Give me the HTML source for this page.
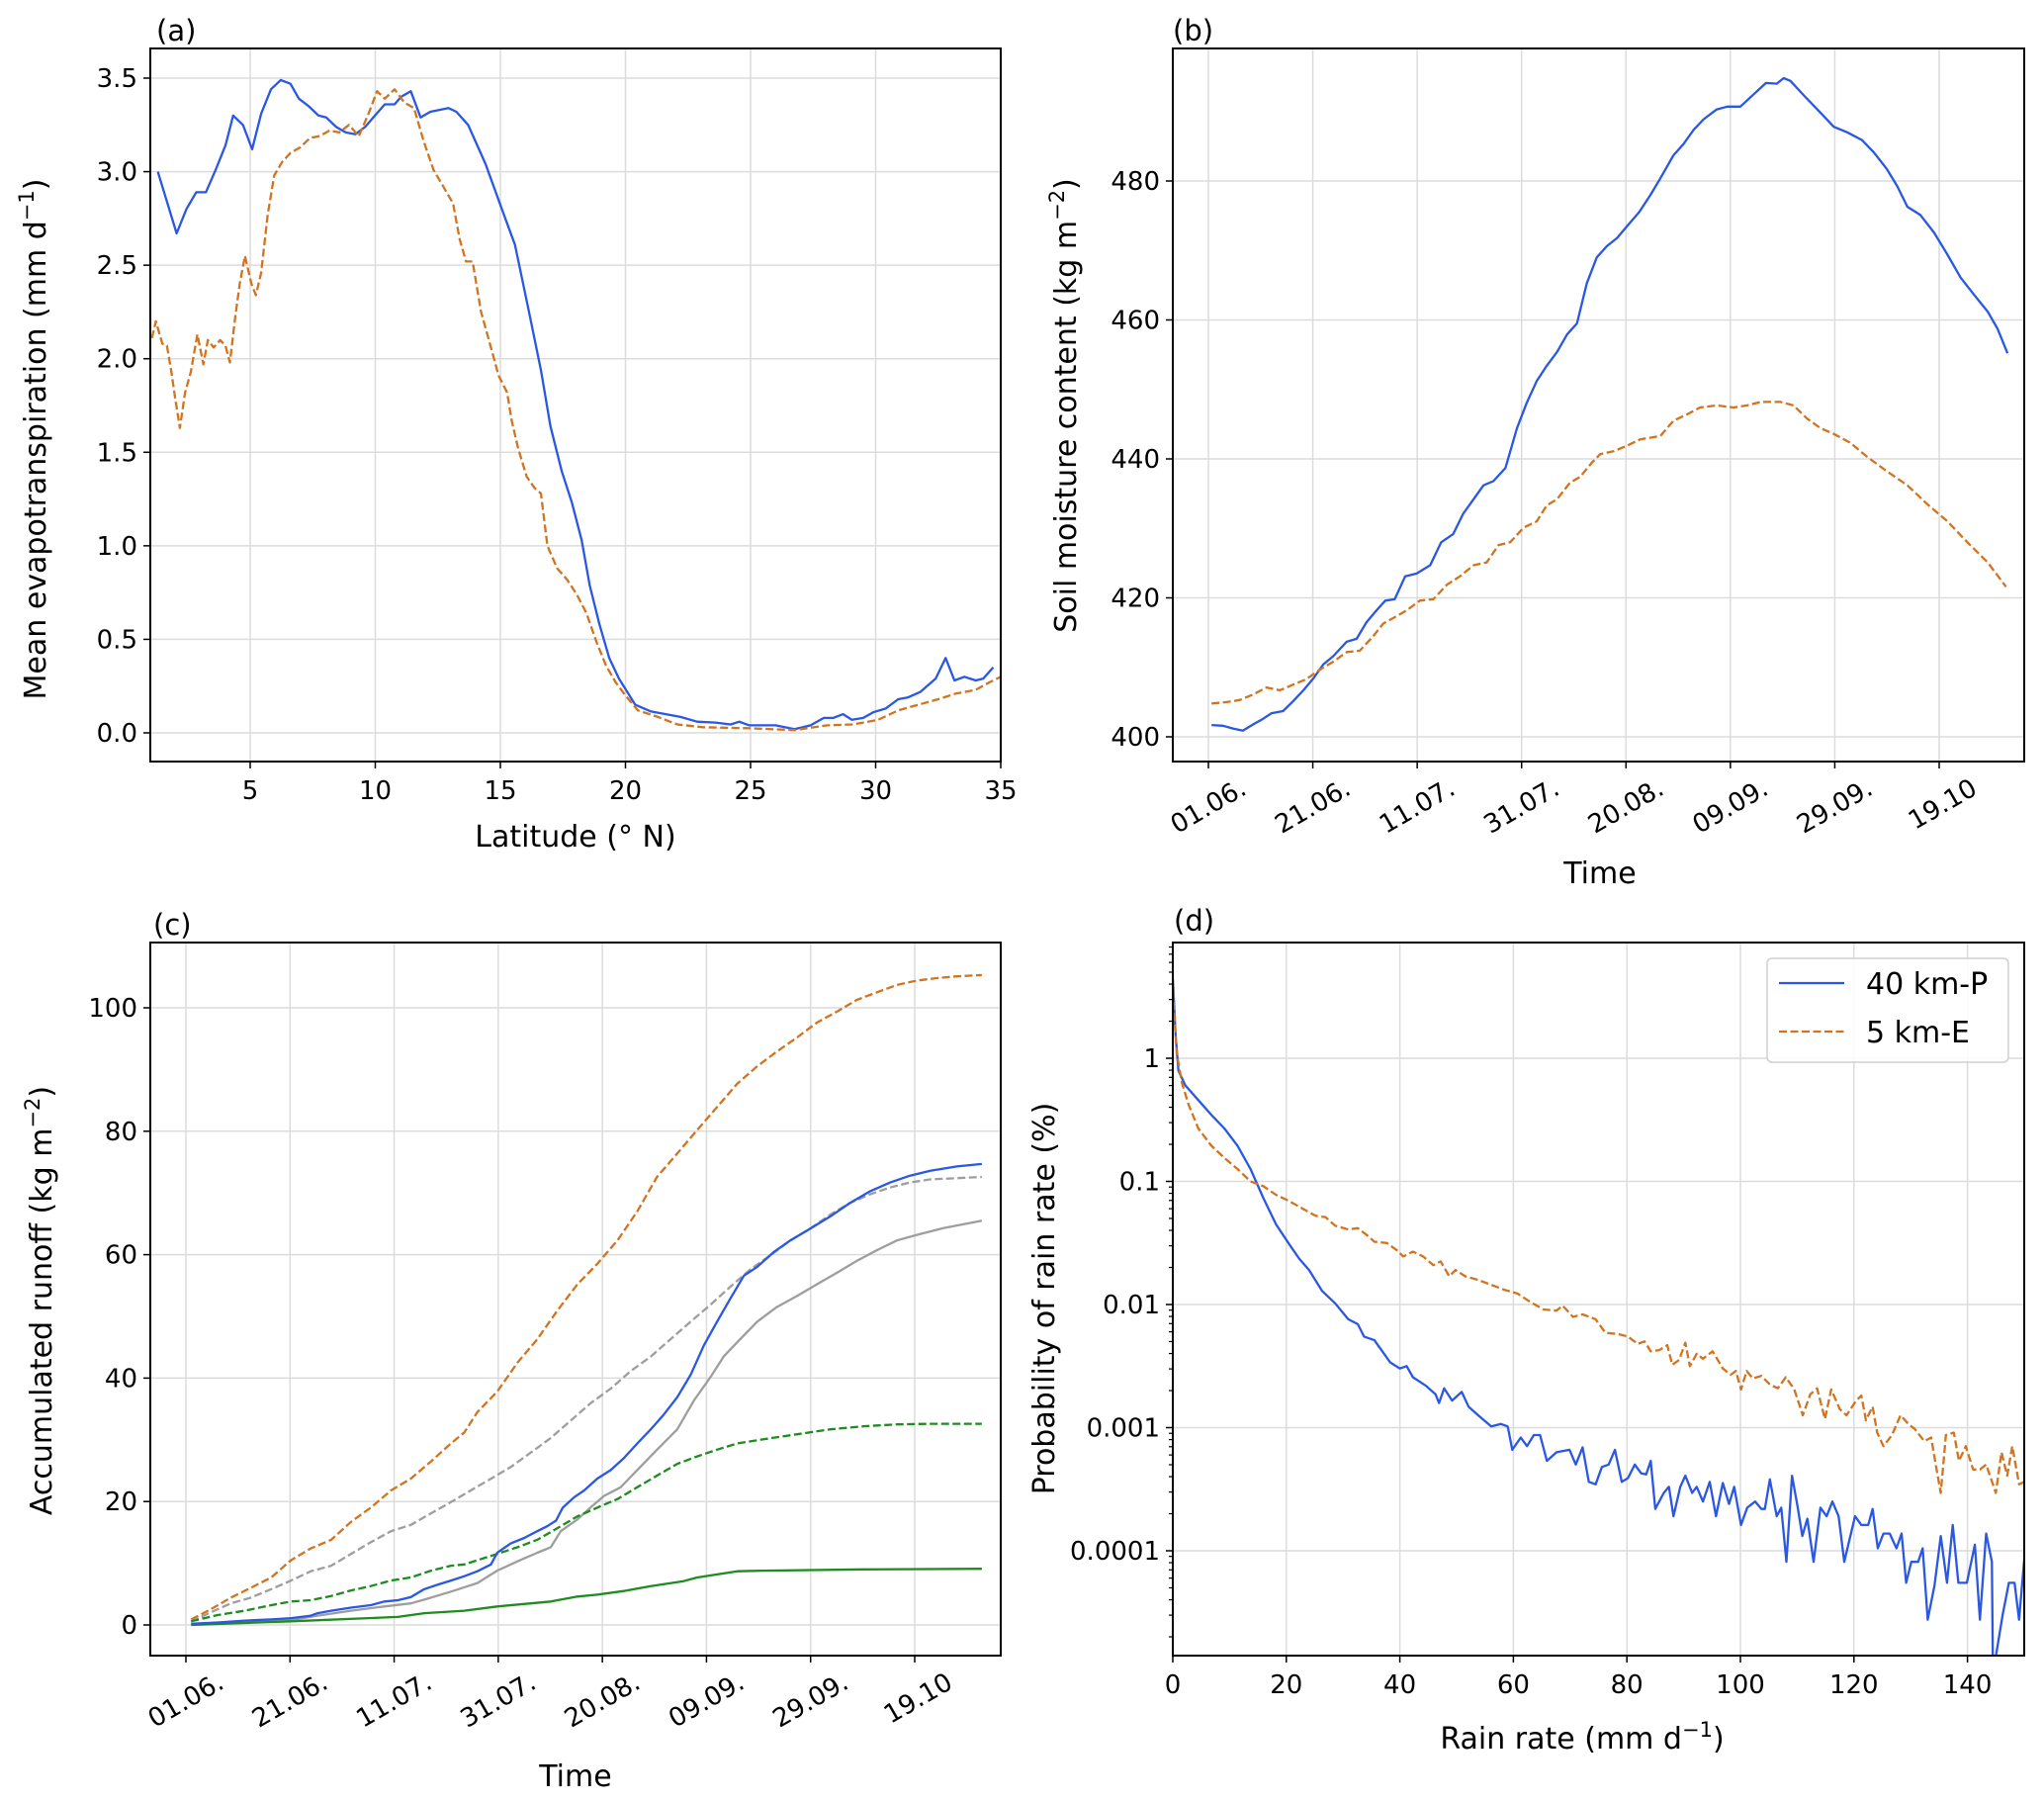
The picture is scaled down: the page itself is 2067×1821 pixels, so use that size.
<!DOCTYPE html>
<html><head><meta charset="utf-8"><style>
html,body{margin:0;padding:0;background:#fff;}
svg{display:block;font-family:"DejaVu Sans","Liberation Sans",sans-serif;}
</style></head><body>
<svg id="fig" width="2067" height="1821" viewBox="0 0 2067 1821" xmlns="http://www.w3.org/2000/svg">
<rect x="0" y="0" width="2067" height="1821" fill="#fff"/>
</svg>
<script>
// ---------- Panel (a) data: latitude vs mean evapotranspiration ----------
const latA_blue=[1.31,2.06,2.45,2.84,3.23,3.62,4.01,4.32,4.71,5.08,5.44,5.83,6.22,6.61,6.95,7.34,7.73,8.04,8.43,8.82,9.21,9.60,9.99,10.38,10.77,11.03,11.42,11.81,12.2,12.93,13.24,13.71,14.41,15.06,15.58,16.1,16.62,17.0,17.45,17.86,18.25,18.57,18.96,19.35,19.74,20.39,21.0,22.2,22.86,23.6,24.2,24.55,24.95,26.0,26.76,27.4,27.93,28.3,28.7,29.05,29.5,29.9,30.4,30.9,31.3,31.8,32.4,32.8,33.15,33.55,34.0,34.3,34.7];
const etA_blue=[3.0,2.67,2.8,2.89,2.89,3.01,3.14,3.30,3.25,3.12,3.31,3.44,3.49,3.47,3.39,3.35,3.30,3.29,3.24,3.21,3.20,3.24,3.30,3.36,3.36,3.40,3.43,3.29,3.32,3.34,3.32,3.25,3.04,2.80,2.61,2.28,1.94,1.64,1.40,1.23,1.03,0.79,0.58,0.40,0.29,0.15,0.115,0.085,0.06,0.055,0.045,0.06,0.04,0.04,0.02,0.04,0.08,0.08,0.10,0.07,0.08,0.11,0.13,0.18,0.19,0.22,0.29,0.40,0.28,0.30,0.28,0.29,0.35];
const latA_orange=[1.07,1.23,1.49,1.67,1.85,2.0,2.19,2.4,2.63,2.89,3.13,3.31,3.54,3.8,4.01,4.19,4.4,4.58,4.79,5.05,5.23,5.44,5.70,5.96,6.27,6.61,7.0,7.39,7.78,8.17,8.56,8.95,9.34,9.73,10.07,10.38,10.77,11.16,11.55,11.94,12.33,12.72,13.11,13.37,13.63,13.89,14.23,14.54,14.93,15.27,15.45,15.71,16.05,16.36,16.62,16.88,17.27,17.66,18.05,18.44,18.83,19.22,19.61,20.0,20.5,21.3,22.08,23.1,24.9,26.76,28.06,29.1,30.1,30.9,31.7,32.5,33.2,34.0,34.55,35.0];
const etA_orange=[2.11,2.20,2.08,2.07,1.93,1.79,1.63,1.82,1.93,2.13,1.97,2.10,2.06,2.10,2.07,1.98,2.22,2.40,2.55,2.40,2.34,2.46,2.77,2.98,3.05,3.10,3.13,3.18,3.19,3.22,3.21,3.25,3.19,3.31,3.43,3.39,3.44,3.37,3.34,3.16,3.01,2.92,2.83,2.64,2.52,2.52,2.25,2.10,1.91,1.82,1.67,1.52,1.37,1.31,1.28,1.0,0.88,0.82,0.74,0.64,0.49,0.36,0.27,0.20,0.12,0.085,0.045,0.03,0.025,0.015,0.04,0.045,0.07,0.12,0.15,0.18,0.21,0.23,0.27,0.30];
const xTicksA=[5,10,15,20,25,30,35];
const yTicksA=[0,0.5,1,1.5,2,2.5,3,3.5];
const yTickLabelsA=["0.0","0.5","1.0","1.5","2.0","2.5","3.0","3.5"];

// ---------- Panel (b) data: soil moisture (days since 01.06.) ----------
const dayB_blue=[0.6,2.8,4.7,6.6,8.6,10.5,12.1,14.3,16.2,18.2,20.1,22.0,23.9,26.5,28.4,30.3,32.2,33.9,35.7,37.7,39.9,42.5,44.6,46.9,48.8,50.8,52.7,54.6,56.9,59.1,61.0,62.9,64.8,66.8,68.7,70.6,72.5,74.4,76.3,78.3,80.2,82.5,84.7,86.6,89.1,91.0,93.0,94.9,97.4,99.4,101.9,104.5,106.8,108.9,110.2,111.5,114.1,117.3,119.8,122.4,125.2,127.5,130.0,132.0,133.9,136.4,139.0,141.6,144.1,146.7,149.3,151.2,153.1];
const smB_blue=[401.7,401.6,401.2,400.9,401.8,402.6,403.4,403.7,405.1,406.7,408.4,410.4,411.6,413.7,414.1,416.5,418.2,419.6,419.8,423.1,423.5,424.7,428.0,429.2,432.1,434.2,436.2,436.8,438.7,444.4,448.1,451.2,453.4,455.4,457.9,459.5,465.3,469.0,470.6,471.8,473.5,475.5,478.0,480.4,483.7,485.3,487.4,488.9,490.3,490.7,490.7,492.5,494.1,494.0,494.8,494.4,492.3,489.8,487.8,487.0,485.9,484.1,481.7,479.2,476.3,475.1,472.6,469.4,466.1,463.6,461.2,458.7,455.2];
const dayB_orange=[0.6,3.5,6.0,8.6,11.1,13.7,16.2,18.8,21.4,23.9,26.5,29.0,31.6,33.5,36.1,38.0,40.5,43.1,45.7,48.2,50.8,53.3,55.6,57.8,60.4,62.9,64.8,66.8,69.3,71.2,73.5,75.1,77.6,80.2,82.7,86.6,89.1,91.7,94.2,97.4,100.6,103.2,105.8,109.6,112.1,114.7,117.3,119.8,123.0,126.2,130.0,133.9,137.7,141.6,145.4,149.3,152.8];
const smB_orange=[404.8,405.0,405.3,406.1,407.1,406.7,407.5,408.3,409.7,410.8,412.2,412.4,414.5,416.3,417.4,418.2,419.6,419.8,421.9,423.1,424.7,425.1,427.6,428.0,430.1,431.0,433.3,434.2,436.6,437.4,439.5,440.7,441.1,441.9,442.8,443.3,445.5,446.4,447.4,447.7,447.4,447.7,448.2,448.2,447.7,445.8,444.4,443.6,442.3,440.3,438.2,436.2,433.5,431.0,428.0,425.1,421.6];
const dateTicks=[0,20,40,60,80,100,120,140];
const dateLabels=["01.06.","21.06.","11.07.","31.07.","20.08.","09.09.","29.09.","19.10"];
const yTicksB=[400,420,440,460,480];

// ---------- Panel (c) data: accumulated runoff ----------
const dayC_orange=[1,4.7,8.6,12.4,16.4,20.2,24.0,27.9,31.7,35.5,39.4,43.2,47.1,50.9,53.5,56.0,59.8,63.7,67.5,71.4,75.2,79.0,82.9,86.7,90.5,94.4,98.2,102.0,105.9,109.7,113.5,117.4,121.2,125.1,128.9,132.7,136.6,140.4,144.2,148.1,152.9];
const runC_orange=[0.9,2.5,4.4,6.0,7.7,10.5,12.4,13.8,16.7,19.0,21.8,23.7,26.5,29.4,31.2,34.5,37.8,42.5,46.3,51.0,55.2,58.5,62.3,67.0,72.6,76.4,80.2,83.9,87.7,90.5,92.9,95.2,97.6,99.4,101.3,102.5,103.7,104.4,104.8,105.1,105.3];
const dayC_grayDash=[1,4.7,8.6,12.4,16.4,20.2,24.0,27.9,31.7,35.5,39.4,43.2,47.1,50.9,54.7,58.6,62.4,66.2,70.1,73.9,77.7,81.6,85.4,89.3,93.1,96.9,100.8,104.6,108.4,112.3,116.1,119.9,123.8,127.6,131.5,135.3,139.1,143.0,148.1,152.9];
const runC_grayDash=[0.6,2.0,3.5,4.4,5.8,7.2,8.7,9.6,11.5,13.4,15.2,16.2,18.1,19.9,21.8,23.7,25.6,27.9,30.3,33.1,35.9,38.3,41.1,43.5,46.3,49.1,51.9,54.8,57.6,59.9,62.3,64.2,66.5,68.4,69.8,70.9,71.7,72.2,72.4,72.6];
const dayC_blue=[1,6.1,11.3,16.4,20.2,24.0,25.3,27.9,31.7,35.5,38.1,40.7,43.2,45.8,48.3,50.9,53.5,56.0,58.6,59.8,62.4,65.0,67.5,69.4,71.1,72.4,74.6,76.5,79.0,81.6,84.1,86.7,89.3,91.8,94.4,97.0,99.5,102.0,104.6,107.2,109.7,112.9,116.1,119.9,123.8,127.6,131.5,135.3,139.1,143.0,148.1,152.9];
const runC_blue=[0.2,0.4,0.7,0.9,1.1,1.5,1.9,2.3,2.8,3.2,3.8,4.0,4.5,5.8,6.5,7.2,7.9,8.7,9.8,11.7,13.2,14.1,15.2,16.0,16.9,19.0,20.7,21.8,23.7,25.1,27.0,29.4,31.7,34.1,36.9,40.6,45.3,49.1,52.9,56.6,58.0,60.4,62.3,64.2,66.2,68.4,70.3,71.7,72.8,73.6,74.3,74.7];
const dayC_gray=[1,11.3,20.2,25.3,31.7,38.1,43.2,45.8,50.9,56.0,59.8,63.7,67.5,70.1,72.0,75.2,77.7,80.3,83.5,86.7,90.5,94.4,97.6,100.8,103.3,105.9,109.7,113.5,117.4,121.2,125.1,128.9,132.7,136.6,140.4,145.5,152.9];
const runC_gray=[0.1,0.4,0.8,1.5,2.3,3.0,3.5,4.1,5.4,6.8,8.8,10.3,11.7,12.6,15.2,17.1,19.0,20.9,22.3,25.1,28.4,31.7,36.4,40.2,43.5,45.8,49.1,51.5,53.3,55.2,57.1,59.0,60.7,62.3,63.2,64.3,65.5];
const dayC_greenDash=[1,6.1,11.3,16.4,20.2,24.0,27.9,31.7,35.5,39.4,43.2,47.1,50.9,53.5,56.0,59.8,63.7,67.5,71.4,75.2,79.0,82.9,86.7,90.5,94.4,98.2,102.0,105.9,111.0,117.4,123.8,130.2,136.6,143.0,152.9];
const runC_greenDash=[0.6,1.6,2.3,3.2,3.8,4.0,4.7,5.6,6.3,7.2,7.7,8.8,9.6,9.8,10.5,11.5,12.6,13.8,15.7,17.6,19.0,20.4,22.3,24.2,26.1,27.3,28.4,29.4,30.1,30.9,31.7,32.2,32.5,32.6,32.6];
const dayC_green=[1,20.2,40.7,45.8,53.5,59.8,70.1,75.2,79.0,84.1,89.3,95.6,98.2,105.9,111.0,130.2,152.9];
const runC_green=[0,0.6,1.3,1.9,2.3,3.0,3.8,4.6,4.9,5.5,6.3,7.1,7.7,8.7,8.8,9.0,9.1];
const yTicksC=[0,20,40,60,80,100];

// ---------- Panel (d) data: rain-rate PDF (log10 of probability in %) ----------
const rateD_blue=[0,0.5,1,2.2,4.5,6.8,9.1,11.4,13.7,16.0,18.2,20.5,22.3,24.0,26.3,28.6,30.9,32.6,33.7,35.5,36.6,38.3,40.0,41.2,42.3,44.6,46.3,46.9,47.8,49.2,50.9,52.1,53.8,56.1,57.8,59.0,59.8,61.3,62.4,63.6,64.7,65.9,67.6,69.9,71.0,72.2,73.3,74.5,75.6,76.8,77.9,79.1,80.2,81.4,82.5,83.4,84.2,85.0,86.5,87.4,88.2,89.4,90.3,91.5,92.3,93.4,94.6,95.7,96.9,98.0,98.9,100.1,101.2,102.6,103.7,104.3,105.2,106.4,107.2,108.1,109.1,110.1,110.9,111.8,112.9,114.1,115.2,116.2,117.3,118.3,120.2,121.3,122.5,123.3,124.2,125.2,126.3,127.5,128.4,129.2,130.1,131.3,132.1,133.0,134.2,135.3,136.4,137.4,138.4,139.9,141.3,142.2,143.3,144.3,144.5,146.2,147.3,148.3,149.1,150];
const logP_blue=[0.65,0.18,-0.10,-0.22,-0.34,-0.46,-0.57,-0.71,-0.90,-1.14,-1.35,-1.51,-1.63,-1.72,-1.89,-1.99,-2.12,-2.16,-2.26,-2.29,-2.36,-2.47,-2.52,-2.50,-2.59,-2.66,-2.73,-2.80,-2.68,-2.78,-2.71,-2.83,-2.90,-2.99,-2.97,-2.99,-3.18,-3.08,-3.15,-3.06,-3.06,-3.27,-3.20,-3.18,-3.30,-3.16,-3.44,-3.46,-3.32,-3.30,-3.18,-3.44,-3.41,-3.30,-3.37,-3.38,-3.27,-3.66,-3.53,-3.48,-3.72,-3.48,-3.39,-3.53,-3.48,-3.60,-3.44,-3.72,-3.45,-3.62,-3.48,-3.79,-3.65,-3.60,-3.66,-3.66,-3.42,-3.72,-3.65,-4.09,-3.39,-3.65,-3.88,-3.74,-4.09,-3.65,-3.72,-3.60,-3.72,-4.09,-3.72,-3.79,-3.79,-3.66,-3.98,-3.86,-3.86,-3.98,-3.86,-4.26,-4.09,-4.09,-3.98,-4.56,-4.28,-3.88,-4.26,-3.79,-4.26,-4.26,-3.95,-4.56,-3.86,-4.09,-5.0,-4.52,-4.26,-4.26,-4.56,-4.07];
const rateD_orange=[0,0.7,1.6,2.8,4.5,6.8,9.1,11.4,13.7,16.0,18.2,20.5,22.8,25.2,26.9,28.6,30.9,32.6,34.3,35.5,37.7,39.5,40.6,42.3,44.1,45.9,47.2,48.7,49.8,51.5,53.8,56.1,58.4,60.7,63.0,65.3,67.6,68.7,70.5,72.2,74.5,76.2,78.5,80.2,81.9,83.1,84.2,85.7,87.1,88.0,89.2,90.3,91.1,92.3,93.4,95.1,96.9,98.3,99.2,100.1,101.1,102.2,103.7,105.2,106.6,108.0,109.5,111.0,112.3,113.5,114.9,116.0,117.5,118.7,120.4,121.3,122.1,123.3,124.1,125.2,126.7,128.2,129.6,130.7,132.4,133.6,134.4,135.3,136.2,137.6,138.5,139.7,141.0,142.2,143.3,145.0,146.0,147.0,147.9,149.1,150];
const logP_orange=[0.55,0.04,-0.20,-0.38,-0.57,-0.71,-0.81,-0.90,-1.00,-1.04,-1.11,-1.16,-1.22,-1.28,-1.29,-1.36,-1.39,-1.38,-1.44,-1.49,-1.50,-1.56,-1.61,-1.57,-1.61,-1.68,-1.65,-1.77,-1.72,-1.77,-1.80,-1.84,-1.88,-1.91,-1.98,-2.04,-2.05,-2.01,-2.10,-2.08,-2.12,-2.23,-2.24,-2.26,-2.32,-2.30,-2.38,-2.37,-2.33,-2.49,-2.45,-2.31,-2.50,-2.40,-2.44,-2.38,-2.52,-2.57,-2.54,-2.69,-2.54,-2.60,-2.58,-2.65,-2.68,-2.59,-2.69,-2.90,-2.73,-2.68,-2.93,-2.69,-2.85,-2.90,-2.78,-2.74,-2.94,-2.83,-3.04,-3.15,-3.06,-2.90,-2.97,-3.01,-3.11,-3.08,-3.30,-3.53,-3.06,-3.04,-3.27,-3.15,-3.34,-3.34,-3.30,-3.53,-3.20,-3.39,-3.15,-3.46,-3.44];
const xTicksD=[0,20,40,60,80,100,120,140];
const yDecadesD=[0,-1,-2,-3,-4];
const yDecadeLabelsD=["1","0.1","0.01","0.001","0.0001"];

// ---------- drawing ----------
const NS="http://www.w3.org/2000/svg";
const svg=document.getElementById('fig');
const BLUE="#2a57e3", ORANGE="#d2741f", GRAY="#9e9e9e", GREEN="#1f8c1f", GRID="#dcdcdc";
function mk(tag,attrs,parent){const e=document.createElementNS(NS,tag);for(const k in attrs)e.setAttribute(k,attrs[k]);(parent||svg).appendChild(e);return e;}
function lin(d0,d1,r0,r1){return v=>r0+(v-d0)*(r1-r0)/(d1-d0);}

function panel(name){
  const g=mk('g',{});
  
  
  return g;
}
function frame(g,L,R,T,B){
  const r=mk('rect',{x:L,y:T,width:R-L,height:B-T,fill:'none',stroke:'#000','stroke-width':2},g);
  
  
}
function gridX(g,xs,sx,T,B){xs.forEach(v=>{const l=mk('line',{x1:sx(v),x2:sx(v),y1:T,y2:B,stroke:GRID,'stroke-width':1.5},g);});}
function gridY(g,ys,sy,L,R){ys.forEach(v=>{const l=mk('line',{x1:L,x2:R,y1:sy(v),y2:sy(v),stroke:GRID,'stroke-width':1.5},g);});}
function ticksX(g,xs,labels,sx,B){xs.forEach((v,i)=>{const x=sx(v);mk('line',{x1:x,x2:x,y1:B,y2:B+7,stroke:'#000','stroke-width':1.5},g);const t=mk('text',{x:x,y:B+38,'font-size':26,'text-anchor':'middle',fill:'#000'},g);t.textContent=labels[i];});}
function ticksY(g,ys,labels,sy,L){ys.forEach((v,i)=>{const y=sy(v);mk('line',{x1:L-7,x2:L,y1:y,y2:y,stroke:'#000','stroke-width':1.5},g);const t=mk('text',{x:L-13,y:y+9,'font-size':26,'text-anchor':'end',fill:'#000'},g);t.textContent=labels[i];});}
function dateTicksDraw(g,sx,B){dateTicks.forEach((v,i)=>{const x=sx(v);mk('line',{x1:x,x2:x,y1:B,y2:B+7,stroke:'#000','stroke-width':1.5},g);const bx=x+40,by=B+32;const t=mk('text',{x:bx,y:by,'font-size':26,'text-anchor':'end',fill:'#000',transform:`rotate(-30 ${bx} ${by})`},g);t.textContent=dateLabels[i];});}
function series(g,xs,ys,sx,sy,color,dashed,name){
  let d='';xs.forEach((v,i)=>{d+=(i?'L':'M')+sx(v).toFixed(1)+' '+sy(ys[i]).toFixed(1);});
  const p=mk('path',{d:d,fill:'none',stroke:color,'stroke-width':2.3,'stroke-linejoin':'round','clip-path':`url(#clip-${name.split('-')[0]})`},g);
  if(dashed)p.setAttribute('stroke-dasharray','8 3.5');
  
  
}
function text(g,x,y,s,size,name,attrs){const t=mk('text',Object.assign({x:x,y:y,'font-size':size,fill:'#000'},attrs||{}),g);t.textContent=s;return t;}
function yLabel(g,x,y,html,name){const t=mk('text',{x:x,y:y,'font-size':30,'text-anchor':'middle',fill:'#000',transform:`rotate(-90 ${x} ${y})`},g);t.innerHTML=html;}
const defs=mk('defs',{});
function clip(id,L,R,T,B){const c=mk('clipPath',{id:'clip-'+id},defs);mk('rect',{x:L,y:T,width:R-L,height:B-T},c);}

// Panel (a)
{const L=152,R=1012,T=49,B=770;clip('a',L,R,T,B);
 const g=panel('panel-a-evapotranspiration');
 const sx=lin(5,35,253,1012), sy=lin(0,3.5,741,79);
 gridX(g,xTicksA,sx,T,B);gridY(g,yTicksA,sy,L,R);
 series(g,latA_blue,etA_blue,sx,sy,BLUE,false,'a-series-40km-P');
 series(g,latA_orange,etA_orange,sx,sy,ORANGE,true,'a-series-5km-E');
 frame(g,L,R,T,B);
 ticksX(g,xTicksA,xTicksA.map(String),sx,B);ticksY(g,yTicksA,yTickLabelsA,sy,L);
 text(g,158,41,'(a)',29,'panel-label-a');
 text(g,582,856,'Latitude (° N)',30,'x-axis-title-a',{'text-anchor':'middle'});
 yLabel(g,46,444,'Mean evapotranspiration (mm d<tspan dy="-12" font-size="21">−1</tspan><tspan dy="12">)</tspan>','y-axis-title-a');
}
// Panel (b)
{const L=1186,R=2047,T=49,B=770;clip('b',L,R,T,B);
 const g=panel('panel-b-soil-moisture');
 const sx=lin(0,140,1222,1961), sy=lin(400,480,745,183);
 gridX(g,dateTicks,sx,T,B);gridY(g,yTicksB,sy,L,R);
 series(g,dayB_blue,smB_blue,sx,sy,BLUE,false,'b-series-40km-P');
 series(g,dayB_orange,smB_orange,sx,sy,ORANGE,true,'b-series-5km-E');
 frame(g,L,R,T,B);
 dateTicksDraw(g,sx,B);ticksY(g,yTicksB,yTicksB.map(String),sy,L);
 text(g,1186,41,'(b)',29,'panel-label-b');
 text(g,1618,893,'Time',30,'x-axis-title-b',{'text-anchor':'middle'});
 yLabel(g,1088,410,'Soil moisture content (kg m<tspan dy="-12" font-size="21">−2</tspan><tspan dy="12">)</tspan>','y-axis-title-b');
}
// Panel (c)
{const L=152,R=1012,T=953,B=1674;clip('c',L,R,T,B);
 const g=panel('panel-c-runoff');
 const sx=lin(0,140,188,925), sy=lin(0,100,1643,1019);
 gridX(g,dateTicks,sx,T,B);gridY(g,yTicksC,sy,L,R);
 series(g,dayC_orange,runC_orange,sx,sy,ORANGE,true,'c-series-orange-dashed');
 series(g,dayC_grayDash,runC_grayDash,sx,sy,GRAY,true,'c-series-gray-dashed');
 series(g,dayC_gray,runC_gray,sx,sy,GRAY,false,'c-series-gray-solid');
 series(g,dayC_greenDash,runC_greenDash,sx,sy,GREEN,true,'c-series-green-dashed');
 series(g,dayC_green,runC_green,sx,sy,GREEN,false,'c-series-green-solid');
 series(g,dayC_blue,runC_blue,sx,sy,BLUE,false,'c-series-blue-solid');
 frame(g,L,R,T,B);
 dateTicksDraw(g,sx,B);ticksY(g,yTicksC,yTicksC.map(String),sy,L);
 text(g,155,945,'(c)',29,'panel-label-c');
 text(g,582,1806,'Time',30,'x-axis-title-c',{'text-anchor':'middle'});
 yLabel(g,52,1315,'Accumulated runoff (kg m<tspan dy="-12" font-size="21">−2</tspan><tspan dy="12">)</tspan>','y-axis-title-c');
}
// Panel (d)
{const L=1186,R=2047,T=953,B=1674;clip('d',L,R,T,B);
 const g=panel('panel-d-rain-rate-pdf');
 const sx=lin(0,150,1186,2047), sy=lin(0,-4,1070,1568);
 gridX(g,xTicksD,sx,T,B);gridY(g,yDecadesD,sy,L,R);
 series(g,rateD_blue,logP_blue,sx,sy,BLUE,false,'d-series-40km-P');
 series(g,rateD_orange,logP_orange,sx,sy,ORANGE,true,'d-series-5km-E');
 frame(g,L,R,T,B);
 for(let dec=-5;dec<=0;dec++){for(let m=2;m<=9;m++){const y=sy(dec+Math.log10(m));if(y>=T&&y<=B)mk('line',{x1:L-4,x2:L,y1:y,y2:y,stroke:'#000','stroke-width':1.2},g);}}
 ticksX(g,xTicksD,xTicksD.map(String),sx,B);ticksY(g,yDecadesD,yDecadeLabelsD,sy,L);
 text(g,1187,941,'(d)',29,'panel-label-d');
 text(g,1600,1768,'',30,'x-axis-title-d',{'text-anchor':'middle'}).innerHTML='Rain rate (mm d<tspan dy="-12" font-size="21">−1</tspan><tspan dy="12">)</tspan>';
 yLabel(g,1066,1313,'Probability of rain rate (%)','y-axis-title-d');
 const lg=mk('g',{},g);
 
 
 mk('rect',{x:1787,y:969,width:244,height:105,rx:5,fill:'#fff','fill-opacity':0.85,stroke:'#d0d0d0','stroke-width':1.5},lg);
 const e1=mk('g',{},lg);
 
 
 mk('line',{x1:1799,x2:1865,y1:994,y2:994,stroke:BLUE,'stroke-width':2.3},e1);
 text(e1,1887,1005,'40 km-P',30,'legend-label-40km-P');
 const e2=mk('g',{},lg);
 
 
 mk('line',{x1:1799,x2:1865,y1:1043,y2:1043,stroke:ORANGE,'stroke-width':2.3,'stroke-dasharray':'8 3.5'},e2);
 text(e2,1887,1054,'5 km-E',30,'legend-label-5km-E');
}
</script>
</body></html>
